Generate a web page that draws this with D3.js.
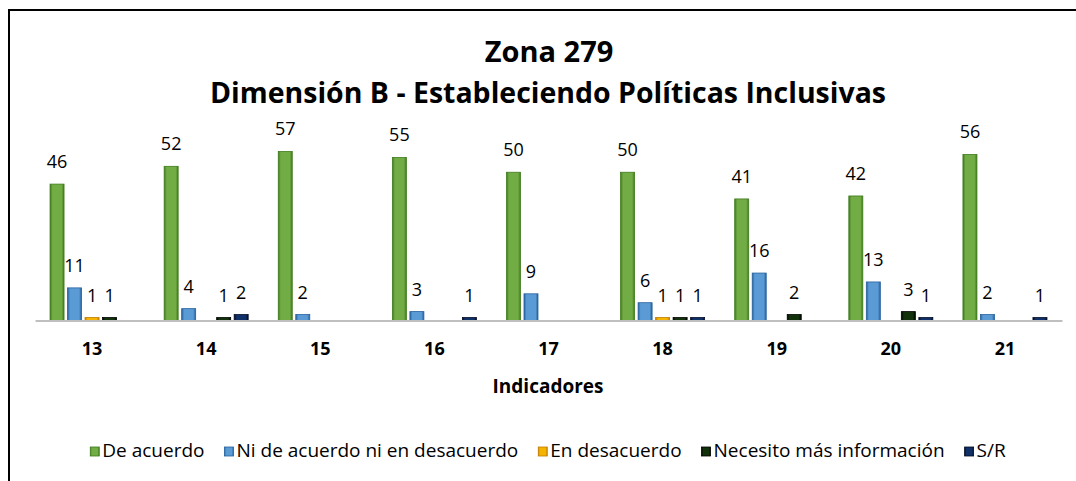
<!DOCTYPE html>
<html>
<head>
<meta charset="utf-8">
<script src="https://cdn.jsdelivr.net/npm/d3@7"></script>
<style>
  body { margin: 0; background: #fff; }
  svg { display: block; font-family: "Open Sans", Lato, sans-serif; }
</style>
</head>
<body>
<div id="chart"></div>
<script>
const categories = ["13", "14", "15", "16", "17", "18", "19", "20", "21"];
const deAcuerdo = [46, 52, 57, 55, 50, 50, 41, 42, 56];
const niDeAcuerdo = [11, 4, 2, 3, 9, 6, 16, 13, 2];
const enDesacuerdo = [1, 0, 0, 0, 0, 1, 0, 0, 0];
const necesito = [1, 1, 0, 0, 0, 1, 2, 3, 0];
const sinRespuesta = [0, 2, 0, 1, 0, 1, 0, 1, 1];

const seriesNames = ["De acuerdo", "Ni de acuerdo ni en desacuerdo", "En desacuerdo", "Necesito más información", "S/R"];
const seriesValues = [deAcuerdo, niDeAcuerdo, enDesacuerdo, necesito, sinRespuesta];
// fill, edge
const palette = [
  ["#72ac45", "#3f7a1c"],
  ["#5b9bd5", "#25609c"],
  ["#f5b400", "#c17d00"],
  ["#12320c", "#000000"],
  ["#0f3068", "#040b22"]
];

const width = 1076;
const height = 481;
const baseline = 320.5;

const svg = d3.select("#chart")
  .append("svg")
  .attr("width", width)
  .attr("height", height);

const defs = svg.append("defs");
palette.forEach(([fill, edge], i) => {
  const g = defs.append("linearGradient").attr("id", "grad" + i).attr("x1", 0).attr("x2", 1).attr("y1", 0).attr("y2", 0);
  g.append("stop").attr("offset", "0%").attr("stop-color", edge);
  g.append("stop").attr("offset", "18%").attr("stop-color", fill);
  g.append("stop").attr("offset", "82%").attr("stop-color", fill);
  g.append("stop").attr("offset", "100%").attr("stop-color", edge);
});

// frame (only top and left edges fall inside the picture)
svg.append("rect")
  .attr("x", 9).attr("y", 10)
  .attr("width", 1100).attr("height", 520)
  .attr("fill", "none")
  .attr("stroke", "#000")
  .attr("stroke-width", 2);

const x0 = d3.scaleBand()
  .domain(categories)
  .range([35, 1062])
  .paddingInner(0.233)
  .paddingOuter(0.1165);

const x1 = d3.scaleBand()
  .domain(d3.range(seriesNames.length))
  .range([0, x0.bandwidth()])
  .paddingInner(0.2)
  .paddingOuter(0.1);

const y = d3.scaleLinear().domain([0, 60]).range([baseline, baseline - 60 * 2.965]);

const rows = categories.map((c, ci) => ({
  cat: c,
  vals: seriesValues.map((s, si) => ({ si, v: s[ci] }))
}));

const groups = svg.append("g")
  .selectAll("g")
  .data(rows)
  .join("g")
  .attr("transform", (d) => `translate(${x0(d.cat)},0)`);

groups.selectAll("rect")
  .data((d) => d.vals.filter((e) => e.v > 0))
  .join("rect")
  .attr("x", (d) => x1(d.si))
  .attr("y", (d) => y(d.v))
  .attr("width", x1.bandwidth())
  .attr("height", (d) => y(0) - y(d.v))
  .attr("fill", (d) => `url(#grad${d.si})`)
  .attr("stroke", (d) => palette[d.si][1])
  .attr("stroke-width", 0.8);

groups.selectAll("text")
  .data((d) => d.vals.filter((e) => e.v > 0))
  .join("text")
  .attr("x", (d) => x1(d.si) + x1.bandwidth() / 2)
  .attr("y", (d) => y(d.v) - 16)
  .attr("text-anchor", "middle")
  .attr("font-size", 18)
  .attr("fill", "#000")
  .text((d) => d.v);

// x axis
const xAxis = svg.append("g")
  .attr("transform", `translate(0,${baseline})`)
  .call(d3.axisBottom(x0).tickSize(0).tickPadding(22).tickSizeOuter(0));
xAxis.select(".domain").attr("stroke", "#bfbfbf").attr("stroke-width", 2);
xAxis.selectAll("text")
  .attr("font-family", "'Open Sans', sans-serif")
  .attr("font-size", 18)
  .attr("font-weight", "bold")
  .attr("fill", "#000");

svg.append("text")
  .attr("x", 548).attr("y", 393)
  .attr("text-anchor", "middle")
  .attr("font-size", 19)
  .attr("font-weight", "bold")
  .text("Indicadores");

// titles
svg.append("text")
  .attr("x", 549).attr("y", 62)
  .attr("text-anchor", "middle")
  .attr("font-size", 29)
  .attr("font-weight", "bold")
  .text("Zona 279");

svg.append("text")
  .attr("x", 548).attr("y", 103)
  .attr("text-anchor", "middle")
  .attr("font-size", 28)
  .attr("font-weight", "bold")
  .attr("textLength", 676)
  .attr("lengthAdjust", "spacingAndGlyphs")
  .text("Dimensión B - Estableciendo Políticas Inclusivas");

// legend
const legend = svg.append("g");
const legendGap = 20;
let cursor = 0;
seriesNames.forEach((name, i) => {
  const item = legend.append("g").attr("transform", `translate(${cursor},0)`);
  item.append("rect")
    .attr("x", 0).attr("y", -10)
    .attr("width", 9).attr("height", 9)
    .attr("fill", `url(#grad${i})`)
    .attr("stroke", palette[i][1])
    .attr("stroke-width", 0.8);
  const t = item.append("text")
    .attr("x", 12).attr("y", 0)
    .attr("font-size", 19)
    .attr("fill", "#000")
    .text(name);
  cursor += 12 + t.node().getComputedTextLength() + legendGap;
});
const total = cursor - legendGap;
legend.attr("transform", `translate(${548 - total / 2},457)`);
</script>
</body>
</html>
